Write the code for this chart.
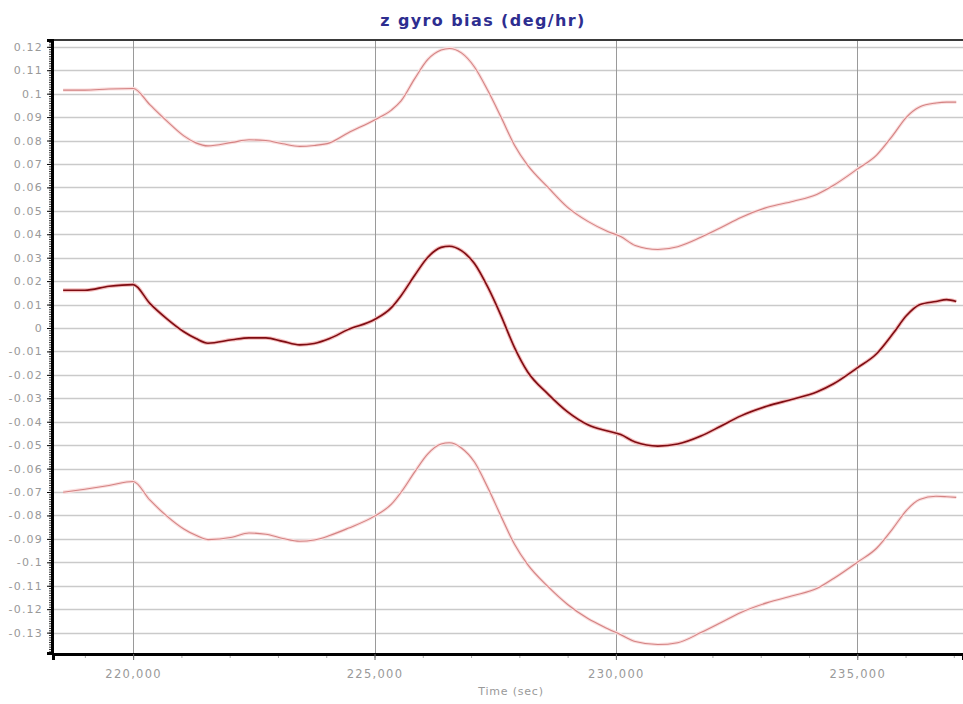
<!DOCTYPE html>
<html>
<head>
<meta charset="utf-8">
<script src="https://cdn.jsdelivr.net/npm/d3@7"></script>
<style>
  body { margin: 0; background: #fff; }
  text { font-family: "DejaVu Sans", sans-serif; }
</style>
</head>
<body>
<div id="chart"></div>
<script>
var w = 963,
  h = 704;
var margin = { top: 40, right: 0, bottom: 51, left: 53 };

// time stamps (sec) and the three curves
var times = [
  218550, 219000, 219500, 220000, 220350, 220700, 221050, 221300, 221550,
  222050, 222400, 222750, 223100, 223450, 223750, 224070, 224450, 225000,
  225350, 225550, 225830, 226100, 226380, 226550, 226800, 227070, 227350,
  227620, 227900, 228170, 228590, 229000, 229420, 229830, 230100, 230400,
  230870, 231280, 231760, 232180, 232590, 233140, 233680, 234160, 234510,
  235000, 235400, 235740, 236020, 236290, 236630, 236850, 237050
];
var upper = [
  0.1015, 0.1015, 0.1020, 0.1022, 0.0952, 0.0883, 0.0820, 0.0790, 0.0777,
  0.0792, 0.0803, 0.0800, 0.0786, 0.0775, 0.0779, 0.0790, 0.0832, 0.0888,
  0.0930, 0.0969, 0.1063, 0.1145, 0.1186, 0.1193, 0.1174, 0.1114, 0.1012,
  0.0900, 0.0780, 0.0695, 0.0601, 0.0515, 0.0455, 0.0412, 0.0390, 0.0352,
  0.0335, 0.0347, 0.0387, 0.0429, 0.0472, 0.0515, 0.0541, 0.0570, 0.0609,
  0.0678, 0.0738, 0.0823, 0.0900, 0.0943, 0.0960, 0.0964, 0.0964
];
var bias = [
  0.0161, 0.0161, 0.0178, 0.0185, 0.0104, 0.0039, -0.0016, -0.0045, -0.0065,
  -0.0050, -0.0042, -0.0042, -0.0057, -0.0072, -0.0066, -0.0045, -0.0007, 0.0036,
  0.0087, 0.0138, 0.0224, 0.0301, 0.0344, 0.0349, 0.0330, 0.0275, 0.0173,
  0.0053, -0.0084, -0.0187, -0.0281, -0.0358, -0.0413, -0.0440, -0.0455, -0.0487,
  -0.0504, -0.0495, -0.0461, -0.0418, -0.0375, -0.0333, -0.0303, -0.0273, -0.0238,
  -0.0170, -0.0110, -0.0024, 0.0053, 0.0099, 0.0113, 0.0121, 0.0113
];
var lower = [
  -0.0701, -0.0688, -0.0672, -0.0655, -0.0735, -0.0803, -0.0858, -0.0885, -0.0903,
  -0.0893, -0.0875, -0.0880, -0.0898, -0.0910, -0.0905, -0.0886, -0.0855, -0.0803,
  -0.0752, -0.0701, -0.0615, -0.0538, -0.0495, -0.0490, -0.0512, -0.0572, -0.0683,
  -0.0803, -0.0923, -0.1009, -0.1103, -0.1180, -0.1240, -0.1283, -0.1309, -0.1338,
  -0.1351, -0.1343, -0.1300, -0.1257, -0.1214, -0.1172, -0.1142, -0.1112, -0.1069,
  -0.1000, -0.0940, -0.0855, -0.0778, -0.0732, -0.0718, -0.0720, -0.0723
];

var yTicks = d3.range(-13, 13).map((d) => d / 100);
var xTicks = [220000, 225000, 230000, 235000];

var svg = d3
  .select("#chart")
  .append("svg")
  .attr("width", w)
  .attr("height", h);

var x = d3
  .scaleLinear()
  .domain([218340, 237190])
  .range([margin.left, w - margin.right]);
var y = d3
  .scaleLinear()
  .domain([-0.1387, 0.1229])
  .range([h - margin.bottom, margin.top]);

// horizontal grid
svg
  .append("g")
  .selectAll("line")
  .data(yTicks)
  .enter()
  .append("line")
  .attr("x1", margin.left)
  .attr("x2", w)
  .attr("y1", (d) => Math.round(y(d)) + 0.5)
  .attr("y2", (d) => Math.round(y(d)) + 0.5)
  .attr("stroke", "#cacaca")
  .attr("stroke-width", 1.5);

// vertical grid
svg
  .append("g")
  .selectAll("line")
  .data(xTicks)
  .enter()
  .append("line")
  .attr("x1", (d) => Math.round(x(d)) + 0.5)
  .attr("x2", (d) => Math.round(x(d)) + 0.5)
  .attr("y1", margin.top)
  .attr("y2", h - margin.bottom)
  .attr("stroke", "#9a9a9a")
  .attr("stroke-width", 1);

// top border
svg
  .append("line")
  .attr("x1", margin.left)
  .attr("x2", w)
  .attr("y1", margin.top)
  .attr("y2", margin.top)
  .attr("stroke", "#3a3a3a")
  .attr("stroke-width", 2);

// curves
var line = d3
  .line()
  .x((d) => x(d[0]))
  .y((d) => y(d[1]))
  .curve(d3.curveMonotoneX);

var series = [
  { values: upper, color: "#d48383", halo: "#fadede", width: 1.1 },
  { values: lower, color: "#d48383", halo: "#fadede", width: 1.1 },
  { values: bias, color: "#7e0c12", halo: "#f4bcbc", width: 1.6 },
];

series.forEach((s) => {
  var pts = times.map((t, i) => [t, s.values[i]]);
  // soft halo under each line
  svg
    .append("path")
    .datum(pts)
    .attr("fill", "none")
    .attr("stroke", s.halo)
    .attr("stroke-width", s.width + 2.2)
    .attr("d", line);
  svg
    .append("path")
    .datum(pts)
    .attr("fill", "none")
    .attr("stroke", s.color)
    .attr("stroke-width", s.width)
    .attr("stroke-linejoin", "round")
    .attr("d", line);
});

// left axis
var yMinor = svg
  .append("g")
  .attr("transform", `translate(${margin.left - 1},0)`)
  .call(
    d3
      .axisLeft(y)
      .tickValues(d3.range(-138, 123, 1).map((d) => d / 1000))
      .tickSize(3)
      .tickFormat("")
  );
yMinor.selectAll(".tick line").attr("stroke", "#333");
yMinor.select(".domain").remove();

var yAxis = svg
  .append("g")
  .attr("transform", `translate(${margin.left - 1},0)`)
  .call(
    d3
      .axisLeft(y)
      .tickValues(yTicks)
      .tickSize(5)
      .tickPadding(4)
      .tickFormat((d) => String(+d.toFixed(2)))
  );
yAxis.select(".domain").attr("stroke", "#000").attr("stroke-width", 3);
yAxis.selectAll(".tick line").attr("stroke", "#000");
yAxis
  .selectAll("text")
  .attr("fill", "#999")
  .style("font-size", "11px")
  .style("letter-spacing", "1.2px");

// bottom axis
var xMinor = svg
  .append("g")
  .attr("transform", `translate(0,${h - margin.bottom + 1})`)
  .call(
    d3
      .axisBottom(x)
      .tickValues(d3.range(219000, 238000, 1000))
      .tickSize(4)
      .tickFormat("")
  );
xMinor.selectAll(".tick line").attr("stroke", "#aaa");
xMinor.select(".domain").remove();

var xAxis = svg
  .append("g")
  .attr("transform", `translate(0,${h - margin.bottom + 1})`)
  .call(
    d3
      .axisBottom(x)
      .tickValues(xTicks)
      .tickSize(6)
      .tickPadding(10)
      .tickFormat(d3.format(","))
  );
xAxis.select(".domain").attr("stroke", "#000").attr("stroke-width", 3);
xAxis.selectAll(".tick line").attr("stroke", "#666");
xAxis
  .selectAll("text")
  .attr("fill", "#999")
  .style("font-size", "11.5px")
  .style("letter-spacing", "1.3px");

// title and axis label
svg
  .append("text")
  .attr("x", 483)
  .attr("y", 26)
  .attr("text-anchor", "middle")
  .attr("fill", "#2e2e90")
  .style("font-size", "16px")
  .style("font-weight", "bold")
  .style("letter-spacing", "1.4px")
  .text("z gyro bias (deg/hr)");

svg
  .append("text")
  .attr("x", 511)
  .attr("y", 695)
  .attr("text-anchor", "middle")
  .attr("fill", "#999")
  .style("font-size", "11px")
  .style("letter-spacing", "0.8px")
  .text("Time (sec)");
</script>
</body>
</html>
